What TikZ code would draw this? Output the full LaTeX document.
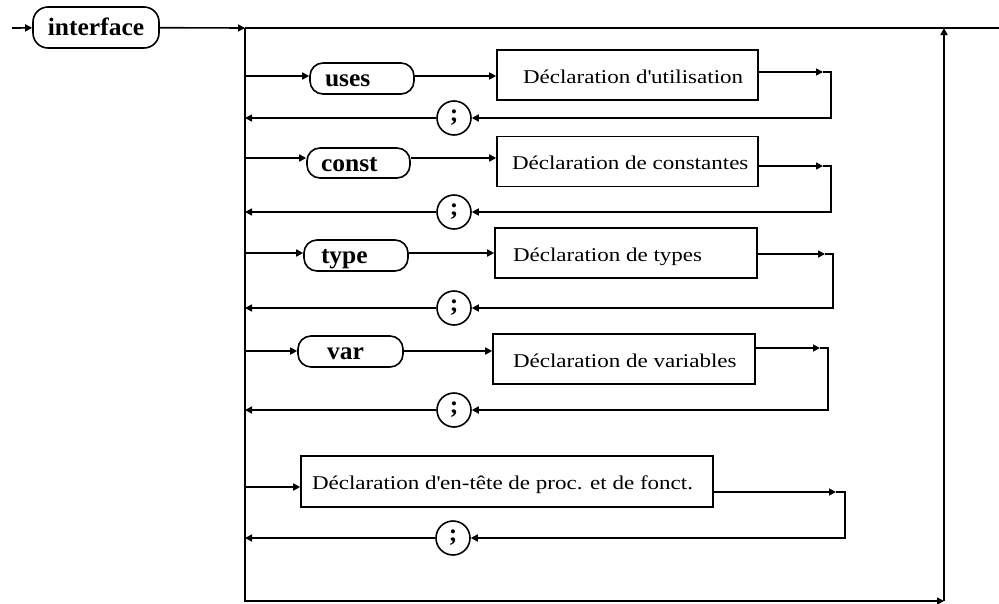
\documentclass[tikz,border=0pt]{standalone}
\usepackage{fontspec}
\setmainfont{Liberation Serif}
\newfontfamily\declfont[FakeStretch=1.18]{Liberation Serif}
\newfontfamily\kwfont[FakeStretch=1.02]{Liberation Serif}
\usetikzlibrary{arrows.meta}
\newcommand\lbx[3]{\makebox[#1pt][l]{\hspace*{#2pt}#3}}
\newcommand\apos{\XeTeXglyph\XeTeXglyphindex"quotesingle"\relax}
\begin{document}
\begin{tikzpicture}[x=1pt,y=-1pt,line width=1.6pt,
  arr/.style={-{Triangle[length=7pt,width=7pt]}},
  kwbox/.style={draw,rounded corners=13pt,inner sep=0pt,minimum height=31,
    text height=16pt,text depth=0pt,
    font=\kwfont\bfseries\fontsize{25}{25}\selectfont},
  declbox/.style={draw,inner sep=0pt,minimum height=50,
    text height=16pt,text depth=0pt,
    font=\declfont\fontsize{19.5}{19.5}\selectfont},
  semi/.style={draw,circle,inner sep=0pt,minimum size=34,
    font=\kwfont\bfseries\fontsize{25}{25}\selectfont}]
\useasboundingbox (0,0) rectangle (999,603);

% main frame
\coordinate (start) at (12,28);
\coordinate (J) at (245,28);
\coordinate (topR) at (999,28);
\coordinate (T) at (944,28);
\coordinate (BL) at (245,601);
\coordinate (BR) at (944,601);

\node[kwbox,minimum width=126,minimum height=41,rounded corners=15pt] (iface) at (96,27.5) {interface};

% keyword boxes
\node[kwbox] (uses) at (362,78.5) {\lbx{104}{15}{uses}};
\node[kwbox,minimum height=30] (const) at (358.5,163) {\lbx{103}{14}{const}};
\node[kwbox] (type) at (356,255.5) {\lbx{104}{17}{type}};
\node[kwbox] (var) at (350.5,351.5) {\lbx{105}{29}{var}};

% declaration boxes
\node[declbox] (dU) at (627.5,75) {\lbx{261}{26}{Déclaration d\apos utilisation}};
\node[declbox] (dC) at (627.5,161.5) {\lbx{261}{15}{Déclaration de constantes}};
\node[declbox] (dT) at (626,253) {\lbx{262}{18}{Déclaration de types}};
\node[declbox] (dV) at (624,359) {\lbx{262}{20}{Déclaration de variables}};
\node[declbox,minimum height=51] (dP) at (507,481.5) {\lbx{412}{11}{Déclaration d\apos en-tête de proc. et de fonct.}};

% semicolons
\node[semi] (sU) at (454,118) {;};
\node[semi] (sC) at (454,212) {;};
\node[semi] (sT) at (454,308) {;};
\node[semi] (sV) at (454,410) {;};
\node[semi] (sP) at (453,538) {;};

% row lines
\coordinate (rU) at (0,76);
\coordinate (rC) at (0,158);
\coordinate (rT) at (0,253);
\coordinate (rV) at (0,351);
\coordinate (rP) at (0,487);
% loop corners
\coordinate (xU) at (831,72);
\coordinate (xC) at (831,166);
\coordinate (xT) at (833,254);
\coordinate (xV) at (828,348);
\coordinate (xP) at (845,492);

% frame
\draw[arr] (start) -- (iface);
\draw[arr] (iface) -- (J);
\draw (J) -- (topR);
\draw[arr] (J) -- (BL) -- (BR);
\draw[arr] (BR) -- (T);

% uses row
\draw[arr] (rU -| J) -- (rU -| uses.west);
\draw[arr] (rU -| uses.east) -- (rU -| dU.west);
\draw[arr] (xU -| dU.east) -- ([xshift=-8]xU);
\draw[arr] ([xshift=-8]xU) -- (xU) |- (sU);
\draw[arr] (sU) -- (sU -| J);

% const row
\draw[arr] (rC -| J) -- (rC -| const.west);
\draw[arr] (rC -| const.east) -- (rC -| dC.west);
\draw[arr] (xC -| dC.east) -- ([xshift=-8]xC);
\draw[arr] ([xshift=-8]xC) -- (xC) |- (sC);
\draw[arr] (sC) -- (sC -| J);

% type row
\draw[arr] (rT -| J) -- (rT -| type.west);
\draw[arr] (rT -| type.east) -- (rT -| dT.west);
\draw[arr] (xT -| dT.east) -- ([xshift=-8]xT);
\draw[arr] ([xshift=-8]xT) -- (xT) |- (sT);
\draw[arr] (sT) -- (sT -| J);

% var row
\draw[arr] (rV -| J) -- (rV -| var.west);
\draw[arr] (rV -| var.east) -- (rV -| dV.west);
\draw[arr] (xV -| dV.east) -- ([xshift=-8]xV);
\draw[arr] ([xshift=-8]xV) -- (xV) |- (sV);
\draw[arr] (sV) -- (sV -| J);

% procedure row
\draw[arr] (rP -| J) -- (rP -| dP.west);
\draw[arr] (xP -| dP.east) -- ([xshift=-9]xP);
\draw[arr] ([xshift=-9]xP) -- (xP) |- (sP);
\draw[arr] (sP) -- (sP -| J);
\end{tikzpicture}
\end{document}
